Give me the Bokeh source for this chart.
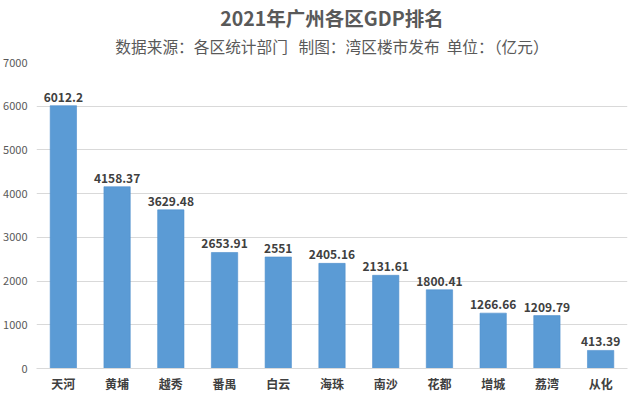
from bokeh.plotting import figure
from bokeh.models import ColumnDataSource, Range1d, FactorRange, Title, LabelSet, FixedTicker, LinearAxis
from bokeh.core.properties import value
from bokeh.embed import file_html
from bokeh.resources import INLINE

districts = ["天河", "黄埔", "越秀", "番禺", "白云", "海珠", "南沙", "花都", "增城", "荔湾", "从化"]
gdp = [6012.2, 4158.37, 3629.48, 2653.91, 2551, 2405.16, 2131.61, 1800.41, 1266.66, 1209.79, 413.39]
gdp_labels = ["6012.2", "4158.37", "3629.48", "2653.91", "2551", "2405.16", "2131.61", "1800.41", "1266.66", "1209.79", "413.39"]
y_ticks = [0, 1000, 2000, 3000, 4000, 5000, 6000, 7000]

title_text = "2021年广州各区GDP排名"
subtitle_text = "数据来源：各区统计部门\u00a0\u00a0\u00a0制图：湾区楼市发布\u00a0\u00a0单位：（亿元）"

FONT = "Noto Sans CJK SC"

src = ColumnDataSource(dict(x=districts, y=gdp, lab=gdp_labels))

p = figure(frame_width=591, frame_height=306, x_range=FactorRange(*districts, range_padding=0),
           y_range=Range1d(0, 7000), output_backend="svg", toolbar_location=None,
           min_border_left=0, min_border_right=4, min_border_bottom=0, min_border_top=0)
p.title.text = ""

sub_axis = LinearAxis(ticker=FixedTicker(ticks=[]), axis_label=subtitle_text, axis_label_text_font=FONT,
                      axis_label_text_font_size="15.7px", axis_label_text_font_style="normal",
                      axis_label_text_color="#595959", axis_label_standoff=5,
                      major_label_standoff=0, major_tick_line_color=None, minor_tick_line_color=None,
                      axis_line_color=None, major_tick_out=0, major_tick_in=0,
                      minor_tick_out=0, minor_tick_in=0)
p.add_layout(sub_axis, "above")
p.add_layout(Title(text=title_text, align="center", text_font=FONT, text_font_size="19.5px",
                   text_font_style="bold", text_color="#595959", standoff=0, offset=0), "above")

p.vbar(x="x", top="y", width=0.49, source=src, fill_color="#5b9bd5", line_color="#4f8fcc", line_width=0.6)

labels = LabelSet(x="x", y="y", text="lab", source=src, text_align="center", text_baseline="bottom",
                  y_offset=4, text_font=value(FONT), text_font_size="12px", text_font_style="bold",
                  text_color="#404040")
p.add_layout(labels)

p.outline_line_color = None
p.xgrid.grid_line_color = None
p.ygrid.grid_line_color = "#d9d9d9"
p.ygrid.ticker = FixedTicker(ticks=y_ticks)

p.yaxis.ticker = FixedTicker(ticks=y_ticks)
p.yaxis.axis_line_color = None
p.yaxis.major_tick_line_color = None
p.yaxis.minor_tick_line_color = None
p.yaxis.major_label_text_font = FONT
p.yaxis.major_label_text_font_size = "11px"
p.yaxis.major_label_text_color = "#595959"
p.yaxis.major_label_standoff = 3

xa = p.below[0]
xa.axis_line_color = "#d9d9d9"
xa.major_tick_line_color = None
xa.minor_tick_line_color = None
xa.major_label_text_font = FONT
xa.major_label_text_font_size = "12px"
xa.major_label_text_font_style = "bold"
xa.major_label_text_color = "#404040"
xa.major_label_standoff = 0

open("out.html", "w").write(file_html(p, INLINE))
